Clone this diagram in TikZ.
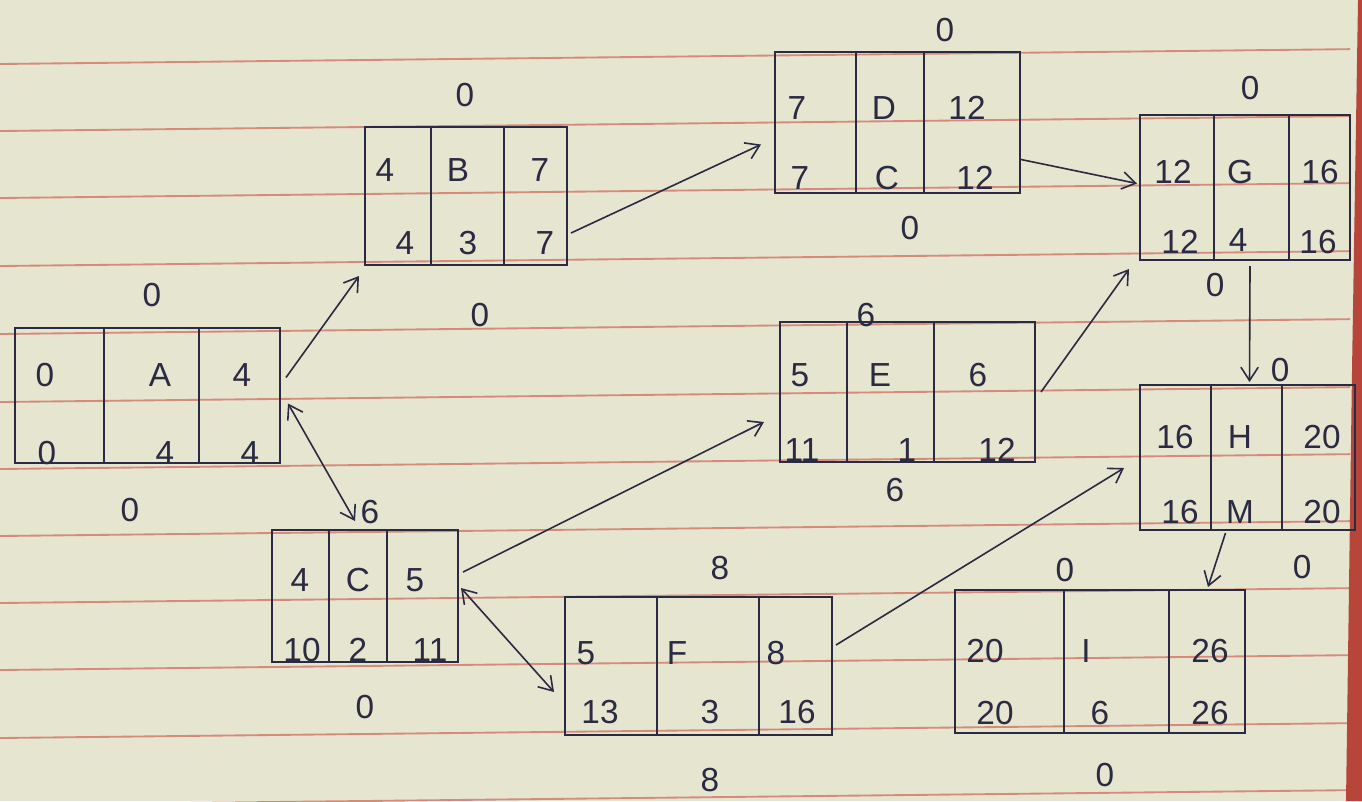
\documentclass[tikz,border=0pt]{standalone}
\usepackage{fontspec}
\setmainfont{Liberation Sans}
\usetikzlibrary{calc,arrows.meta}
\definecolor{paper}{HTML}{E6E5D0}
\definecolor{rule}{HTML}{D68A7A}
\definecolor{ink}{HTML}{2A2A42}
\definecolor{edge}{HTML}{B8453A}
\tikzset{
  box/.style={draw=ink, line width=1.5pt, rectangle, inner sep=0pt},
  div/.style={draw=ink, line width=1.5pt},
  lbl/.style={text=ink, font=\fontsize{25}{29}\selectfont, inner sep=0pt},
  conn/.style={draw=ink, line width=1.2pt, -{Straight Barb[length=10pt,width=13pt]}},
  dconn/.style={draw=ink, line width=1.2pt, {Straight Barb[length=10pt,width=13pt]}-{Straight Barb[length=10pt,width=13pt]}},
  ruled/.style={draw=rule, line width=1.4pt}
}
\begin{document}
\begin{tikzpicture}[x=0.75pt,y=-0.75pt]
\useasboundingbox (0,0) rectangle (1362,801);
\fill[paper] (0,0) rectangle (1362,801);
% ruled lines
\foreach \yy in {64,131,198,266,334,402,469,536,603,670,738,805}
  \draw[ruled] (0,\yy) -- (1350,{\yy-14.85});
% page edge
\fill[edge] (1358,0) -- (1362,0) -- (1362,801) -- (1346,801) -- (1352,370) -- cycle;

% ---------- boxes ----------
\node[box, minimum width={265*0.75pt}, minimum height={135*0.75pt}] (A) at (147.5,395.5) {};
\node[box, minimum width={202*0.75pt}, minimum height={138*0.75pt}] (B) at (466,196) {};
\node[box, minimum width={245*0.75pt}, minimum height={141*0.75pt}] (D) at (897.5,122.5) {};
\node[box, minimum width={210*0.75pt}, minimum height={145*0.75pt}] (G) at (1245,187.5) {};
\node[box, minimum width={255*0.75pt}, minimum height={140*0.75pt}] (E) at (907.5,392) {};
\node[box, minimum width={215*0.75pt}, minimum height={145*0.75pt}] (H) at (1247.5,457.5) {};
\node[box, minimum width={186*0.75pt}, minimum height={132*0.75pt}] (C) at (365,596) {};
\node[box, minimum width={267*0.75pt}, minimum height={138*0.75pt}] (F) at (698.5,666) {};
\node[box, minimum width={290*0.75pt}, minimum height={143*0.75pt}] (I) at (1100,661.5) {};

% dividers
\foreach \n/\a/\b in {A/90/185, B/67/140, D/82/150, G/75/150, E/68/155, H/72/143, C/58/116, F/93/195, I/110/215}{
  \draw[div] ($(\n.north west)+(\a,0)$) -- ($(\n.south west)+(\a,0)$);
  \draw[div] ($(\n.north west)+(\b,0)$) -- ($(\n.south west)+(\b,0)$);
}

% ---------- texts ----------
% A
\node[lbl] (a1) at (45,375) {0};
\node[lbl] (a2) at (160,375) {A};
\node[lbl] (a3) at (242,375) {4};
\node[lbl] (a4) at (47,453) {0};
\node[lbl] (a5) at (165,453) {4};
\node[lbl] (a6) at (250,453) {4};
\node[lbl] (a7) at (152,295) {0};
\node[lbl] (a8) at (130,510) {0};
% B
\node[lbl] (b1) at (385,170) {4};
\node[lbl] (b2) at (458,170) {B};
\node[lbl] (b3) at (540,170) {7};
\node[lbl] (b4) at (405,243) {4};
\node[lbl] (b5) at (468,243) {3};
\node[lbl] (b6) at (545,243) {7};
\node[lbl] (b7) at (465,95) {0};
\node[lbl] (b8) at (480,315) {0};
% D
\node[lbl] (d1) at (797,108) {7};
\node[lbl] (d2) at (884,108) {D};
\node[lbl] (d3) at (967,108) {12};
\node[lbl] (d4) at (800,178) {7};
\node[lbl] (d5) at (887,178) {C};
\node[lbl] (d6) at (975,178) {12};
\node[lbl] (d7) at (945,30) {0};
\node[lbl] (d8) at (910,228) {0};
% G
\node[lbl] (g1) at (1173,172) {12};
\node[lbl] (g2) at (1240,172) {G};
\node[lbl] (g3) at (1320,172) {16};
\node[lbl] (g4) at (1180,242) {12};
\node[lbl] (g5) at (1238,240) {4};
\node[lbl] (g6) at (1318,242) {16};
\node[lbl] (g7) at (1250,88) {0};
\node[lbl] (g8) at (1215,285) {0};
% E
\node[lbl] (e1) at (800,375) {5};
\node[lbl] (e2) at (880,375) {E};
\node[lbl] (e3) at (978,375) {6};
\node[lbl] (e4) at (802,450) {11};
\node[lbl] (e5) at (907,450) {1};
\node[lbl] (e6) at (997,450) {12};
\node[lbl] (e7) at (866,315) {6};
\node[lbl] (e8) at (895,490) {6};
% H
\node[lbl] (h1) at (1175,437) {16};
\node[lbl] (h2) at (1240,437) {H};
\node[lbl] (h3) at (1322,437) {20};
\node[lbl] (h4) at (1180,512) {16};
\node[lbl] (h5) at (1240,512) {M};
\node[lbl] (h6) at (1322,512) {20};
\node[lbl] (h7) at (1280,370) {0};
\node[lbl] (h8) at (1302,567) {0};
% C (lower left)
\node[lbl] (c1) at (300,580) {4};
\node[lbl] (c2) at (358,580) {C};
\node[lbl] (c3) at (415,580) {5};
\node[lbl] (c4) at (302,650) {10};
\node[lbl] (c5) at (358,650) {2};
\node[lbl] (c6) at (430,650) {11};
\node[lbl] (c7) at (370,512) {6};
\node[lbl] (c8) at (365,707) {0};
% F
\node[lbl] (f1) at (586,653) {5};
\node[lbl] (f2) at (677,653) {F};
\node[lbl] (f3) at (776,653) {8};
\node[lbl] (f4) at (600,712) {13};
\node[lbl] (f5) at (710,712) {3};
\node[lbl] (f6) at (797,712) {16};
\node[lbl] (f7) at (720,568) {8};
\node[lbl] (f8) at (710,780) {8};
% I
\node[lbl] (i1) at (985,651) {20};
\node[lbl] (i2) at (1086,651) {I};
\node[lbl] (i3) at (1210,651) {26};
\node[lbl] (i4) at (995,713) {20};
\node[lbl] (i5) at (1100,713) {6};
\node[lbl] (i6) at (1210,713) {26};
\node[lbl] (i7) at (1065,570) {0};
\node[lbl] (i8) at (1105,775) {0};

% ---------- connectors ----------
\draw[conn] ($(A.east)+(5,-18)$) -- ($(B.south west)+(-5,10)$);
\draw[dconn] ($(A.east)+(7,8)$) -- ($(C.north)+(-10,-8)$);
\draw[conn] ($(B.east)+(3,37)$) -- ($(D.west)+(-13,22)$);
\draw[conn] ($(D.east)+(0,37)$) -- ($(G.west)+(-2,-4)$);
\draw[conn] ($(E.east)+(5,0)$) -- ($(G.south west)+(-10,8)$);
\draw[conn] ($(G.south)+(5,5)$) -- ($(H.north)+(2,-2)$);
\draw[conn] ($(C.east)+(4,-24)$) -- ($(E.west)+(-15,30)$);
\draw[dconn] ($(C.east)+(2,-8)$) -- ($(F.west)+(-10,26)$);
\draw[conn] ($(F.east)+(3,-21)$) -- ($(H.west)+(-15,10.5)$);
\draw[conn] ($(H.south)+(-22,2)$) -- ($(I.north east)+(-38,-2)$);
\end{tikzpicture}
\end{document}
